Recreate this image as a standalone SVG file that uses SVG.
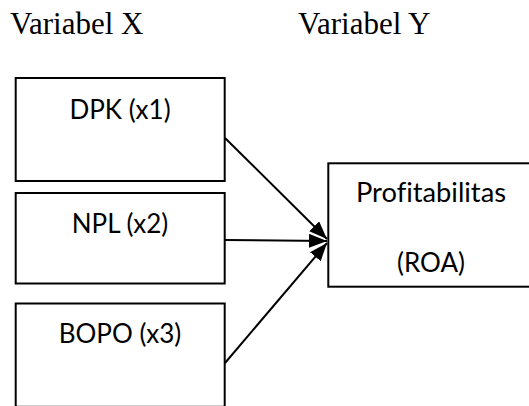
<svg xmlns="http://www.w3.org/2000/svg" width="529" height="406" viewBox="0 0 529 406">
<style>
.hdr{font-family:"Liberation Serif","Times New Roman",serif;font-size:31px;fill:#000}
.box{fill:#fff;stroke:#000;stroke-width:2}
.lbl{font-family:Lato,"Liberation Sans",sans-serif;font-size:26px;fill:#000;text-anchor:middle;font-variant-ligatures:none;font-feature-settings:"liga" 0}
.con{stroke:#000;stroke-width:2;fill:none}
</style>
<defs>
<marker id="ah" markerUnits="userSpaceOnUse" viewBox="0 0 18 14" markerWidth="18" markerHeight="14" refX="18" refY="7" orient="auto">
<path d="M0,0 L18,7 L0,14 z" fill="#000"/>
</marker>
</defs>
<rect width="529" height="406" fill="#fff"/>
<text class="hdr" x="10" y="34">Variabel X</text>
<text class="hdr" x="298" y="34">Variabel Y</text>
<g id="dpk">
<rect class="box" x="15.7" y="78" width="209" height="103"/>
<text class="lbl" x="120" y="119">DPK (x1)</text>
</g>
<g id="npl">
<rect class="box" x="15.7" y="193" width="209" height="90.5"/>
<text class="lbl" x="120" y="233">NPL (x2)</text>
</g>
<g id="bopo">
<rect class="box" x="15.7" y="303.5" width="209" height="103.3"/>
<text class="lbl" x="120" y="343">BOPO (x3)</text>
</g>
<g id="roa">
<rect class="box" x="328.3" y="163.3" width="210" height="123.4"/>
<text class="lbl" x="431" y="202" textLength="150" lengthAdjust="spacingAndGlyphs">Profitabilitas</text>
<text class="lbl" x="431" y="272">(ROA)</text>
</g>
<g id="connectors">
<line class="con" x1="225" y1="138" x2="327" y2="239" marker-end="url(#ah)"/>
<line class="con" x1="225" y1="240" x2="327" y2="241" marker-end="url(#ah)"/>
<line class="con" x1="225" y1="363" x2="327" y2="243" marker-end="url(#ah)"/>
</g>
</svg>
